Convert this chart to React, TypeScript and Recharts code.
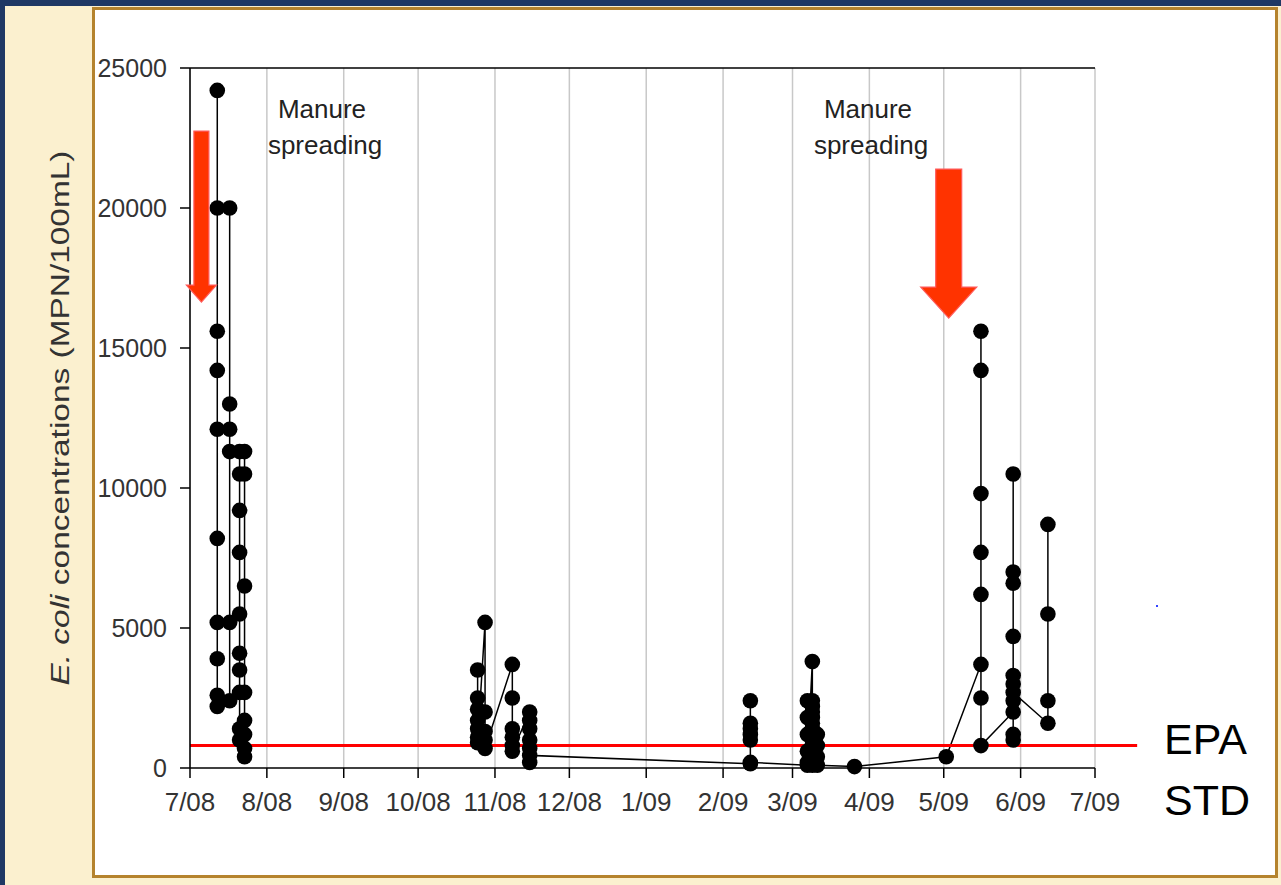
import React from "react";
import {
  LineChart,
  Line,
  XAxis,
  YAxis,
  CartesianGrid,
  ReferenceLine,
  ReferenceDot,
} from "recharts";

// days counted from 7/1/08
const monthTickDays = [0, 31, 62, 92, 123, 153, 184, 215, 243, 274, 304, 335, 365];
const monthLabels = ["7/08", "8/08", "9/08", "10/08", "11/08", "12/08", "1/09", "2/09", "3/09", "4/09", "5/09", "6/09", "7/09"];
const yTicks = [0, 5000, 10000, 15000, 20000, 25000];

// sampling days and the E. coli readings taken on each (MPN/100mL), in sampling order
const sampleDays = [11, 16, 20, 22, 116, 119, 130, 137, 226, 249, 251, 253, 268, 305, 319, 332, 346];
const sampleValues = [
  [24200, 20000, 15600, 14200, 12100, 8200, 5200, 3900, 2600, 2200],
  [2400, 20000, 13000, 12100, 5200, 11300],
  [11300, 9200, 7700, 5500, 4100, 3500, 2700, 1400, 1000, 10500],
  [10500, 11300, 6500, 2700, 1700, 1200, 700, 400],
  [3500, 2500, 2100, 1700, 1400, 1100, 900],
  [5200, 2000, 1300, 1000, 700],
  [3700, 2500, 1400, 1100, 800, 600],
  [2000, 1700, 1400, 1000, 700, 200, 450],
  [150, 1000, 1200, 1400, 1600, 2400, 200],
  [100, 2400, 1800, 1200, 600, 200],
  [3800, 2400, 2200, 2000, 1800, 1600, 1400, 1200, 1000, 800, 600, 400, 200, 100],
  [1200, 800, 400, 100],
  [50],
  [400],
  [3700, 14200, 15600, 9800, 7700, 6200, 2500, 800],
  [2000, 1200, 1000, 10500, 7000, 6600, 4700, 3300, 3000, 2400, 2700],
  [1600, 2400, 5500, 8700],
];
// no line drawn between the summer 2008 samples and the fall samples
const gapAfterDay = 22;

const EPA_STD = 800;
const epaLineEndDay = 382;

// manure spreading arrows: day and value at the arrow tip
const arrowDays = [4.6, 306];
const arrowTips = [16640, 16070];

const data: { day: number; value: number | null }[] = [];
sampleDays.forEach((day, i) => {
  sampleValues[i].forEach((value) => data.push({ day, value }));
  if (day === gapAfterDay) data.push({ day: day + 1, value: null });
});

const Arrow = (props: any) => {
  const { cx, cy, big } = props;
  const w = big ? 13 : 7.5;
  const H = big ? 28 : 15;
  const h = big ? 31 : 17;
  const L = big ? 149 : 171;
  const pts = [
    [cx - w, cy - L],
    [cx + w, cy - L],
    [cx + w, cy - h],
    [cx + H, cy - h],
    [cx, cy],
    [cx - H, cy - h],
    [cx - w, cy - h],
  ]
    .map((p) => p.join(","))
    .join(" ");
  return <polygon points={pts} fill="#ff3300" stroke="#ff5a5a" strokeWidth={1.2} />;
};

const Dot = (props: any) => {
  const { cx, cy, index, payload } = props;
  if (cy == null || payload?.value == null) return <g key={index} />;
  return <circle key={index} cx={cx} cy={cy} r={7.8} fill="#000" />;
};

const YLabel = () => (
  <text
    x={0}
    y={0}
    transform="translate(69,418) rotate(-90)"
    textAnchor="middle"
    fontSize={25}
    fill="#333"
    textLength={535}
    lengthAdjust="spacingAndGlyphs"
    fontFamily="Liberation Sans, Arial, sans-serif"
  >
    <tspan fontStyle="italic">E. coli</tspan>
    <tspan> concentrations (MPN/100mL)</tspan>
  </text>
);

export default function App() {
  const font = "Liberation Sans, Arial, sans-serif";
  return (
    <div style={{ position: "fixed", left: 0, top: 0, width: 1281, height: 885, background: "#1f3864", overflow: "hidden" }}>
      <div style={{ position: "absolute", left: 5, top: 6, right: 0, bottom: 0, background: "#fbf0cf" }} />
      <div
        style={{
          position: "absolute",
          left: 92,
          top: 7,
          width: 1186,
          height: 871,
          background: "#fff",
          border: "3px solid #b5832d",
          boxSizing: "border-box",
        }}
      />
      <div style={{ position: "absolute", left: 1156, top: 605, width: 2, height: 2, background: "#3344ff" }} />
      <div style={{ position: "absolute", left: 0, top: 0 }}>
        <LineChart
          width={1281}
          height={885}
          data={data}
          margin={{ top: 68, right: 186, bottom: 87, left: 130 }}
        >
          <CartesianGrid horizontal={false} stroke="#c8c8c8" strokeWidth={1.5} />
          <XAxis
            type="number"
            dataKey="day"
            domain={[0, 365]}
            ticks={monthTickDays}
            tickFormatter={(d: number) => monthLabels[monthTickDays.indexOf(d)]}
            height={30}
            tickSize={10}
            tickMargin={15}
            axisLine={{ stroke: "#000", strokeWidth: 1.5 }}
            tickLine={{ stroke: "#000", strokeWidth: 1.5 }}
            tick={{ fill: "#333", fontSize: 26, fontFamily: font }}
            interval={0}
          />
          <YAxis
            type="number"
            domain={[0, 25000]}
            ticks={yTicks}
            width={60}
            tickSize={10}
            tickMargin={13}
            axisLine={{ stroke: "#000", strokeWidth: 1.5 }}
            tickLine={{ stroke: "#000", strokeWidth: 1.5 }}
            tick={{ fill: "#333", fontSize: 25, fontFamily: font }}
            label={{ content: () => <YLabel /> }}
          />
          <ReferenceLine y={25000} stroke="#000" strokeWidth={1.5} />
          <Line
            dataKey="value"
            stroke="#000"
            strokeWidth={1.5}
            dot={<Dot />}
            activeDot={false}
            connectNulls={false}
            isAnimationActive={false}
          />
          <ReferenceLine
            segment={[
              { x: 0, y: EPA_STD },
              { x: epaLineEndDay, y: EPA_STD },
            ]}
            stroke="#ff0000"
            strokeWidth={3}
            ifOverflow="visible"
          />
          <ReferenceDot x={arrowDays[0]} y={arrowTips[0]} shape={(p: any) => <Arrow {...p} />} ifOverflow="visible" />
          <ReferenceDot x={arrowDays[1]} y={arrowTips[1]} shape={(p: any) => <Arrow {...p} big />} ifOverflow="visible" />
        </LineChart>
      </div>
      <svg width={1281} height={885} style={{ position: "absolute", left: 0, top: 0, pointerEvents: "none" }}>
        <g fontFamily={font} fontSize={26} fill="#222" textAnchor="middle">
          <text x={322} y={118}>Manure</text>
          <text x={325} y={154}>spreading</text>
          <text x={868} y={118}>Manure</text>
          <text x={871} y={154}>spreading</text>
        </g>
        <g fontFamily={font} fontSize={43} fill="#000">
          <text x={1164} y={754}>EPA</text>
          <text x={1164} y={815}>STD</text>
        </g>
      </svg>
    </div>
  );
}
